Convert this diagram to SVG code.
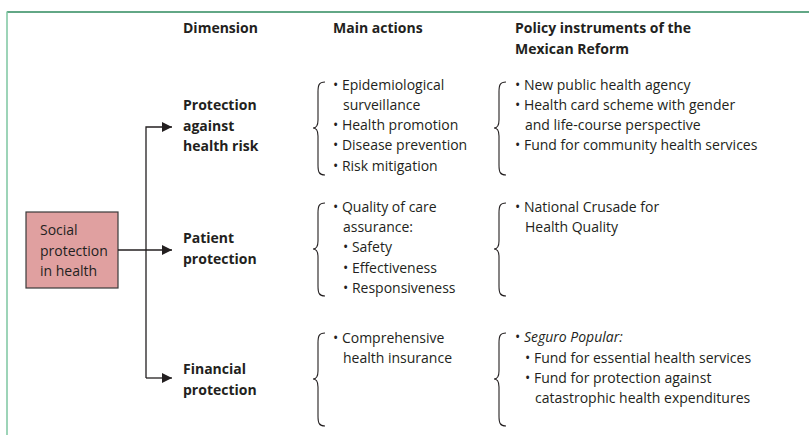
<svg xmlns="http://www.w3.org/2000/svg" width="809" height="435" viewBox="0 0 809 435">
<defs>
<marker id="arr" viewBox="0 0 10 10" refX="10" refY="5" markerWidth="10" markerHeight="10" markerUnits="userSpaceOnUse" orient="auto">
<path d="M0,0 L10,5 L0,10 Z" fill="#231f20"/>
</marker>
<path id="brace" d="M12,0 C6,0 5,3 5,10 L5,38 C5,44 3,46 0,46 C3,46 5,48 5,54 L5,83 C5,90 6,93 12,93" fill="none" stroke="#231f20" stroke-width="1.1"/>
</defs>
<style>
text{font-family:"Open Sans","Noto Sans","Liberation Sans",sans-serif;font-size:14px;fill:#231f20}
.h{font-weight:bold}
.i{font-style:italic}
.conn{fill:none;stroke:#231f20;stroke-width:1.3}
</style>
<rect width="809" height="435" fill="#fff"/>
<g id="frame">
<line x1="7" y1="12" x2="809" y2="12" stroke="#2e8a5e" stroke-width="1.5"/>
<line x1="7" y1="11.5" x2="7" y2="435" stroke="#7cc6a0" stroke-width="1.5"/>
</g>
<g id="headers">
<text class="h" x="183" y="33">Dimension</text>
<text class="h" x="333" y="33">Main actions</text>
<text class="h" x="515" y="33">Policy instruments of the</text>
<text class="h" x="515" y="54">Mexican Reform</text>
</g>
<g id="root">
<rect x="26" y="212" width="92" height="76" fill="#e0a0a0" stroke="#3a3a3a" stroke-width="1.2"/>
<text x="40" y="235">Social</text>
<text x="40" y="256">protection</text>
<text x="40" y="276">in health</text>
</g>
<g id="connectors">
<path class="conn" d="M118,250 H172" marker-end="url(#arr)"/>
<path class="conn" d="M146,378 V127 H172" marker-end="url(#arr)"/>
<path class="conn" d="M146,378 H172" marker-end="url(#arr)"/>
</g>
<g id="dim-risk">
<text class="h" x="183" y="110">Protection</text>
<text class="h" x="183" y="131">against</text>
<text class="h" x="183" y="151">health risk</text>
</g>
<g id="dim-patient">
<text class="h" x="183" y="243">Patient</text>
<text class="h" x="183" y="264">protection</text>
</g>
<g id="dim-financial">
<text class="h" x="183" y="374">Financial</text>
<text class="h" x="183" y="395">protection</text>
</g>
<g id="actions-risk">
<use href="#brace" x="313" y="82"/>
<text x="333" y="90">• Epidemiological</text>
<text x="343" y="110">surveillance</text>
<text x="333" y="130">• Health promotion</text>
<text x="333" y="150">• Disease prevention</text>
<text x="333" y="171">• Risk mitigation</text>
</g>
<g id="actions-patient">
<use href="#brace" x="313" y="203"/>
<text x="333" y="212">• Quality of care</text>
<text x="343" y="232">assurance:</text>
<text x="343" y="252">• Safety</text>
<text x="343" y="273">• Effectiveness</text>
<text x="343" y="293">• Responsiveness</text>
</g>
<g id="actions-financial">
<use href="#brace" x="313" y="333"/>
<text x="333" y="343">• Comprehensive</text>
<text x="343" y="363">health insurance</text>
</g>
<g id="policy-risk">
<use href="#brace" x="494" y="82"/>
<text x="515" y="90">• New public health agency</text>
<text x="515" y="110">• Health card scheme with gender</text>
<text x="525" y="130">and life-course perspective</text>
<text x="515" y="150">• Fund for community health services</text>
</g>
<g id="policy-patient">
<use href="#brace" x="494" y="203"/>
<text x="515" y="212">• National Crusade for</text>
<text x="525" y="232">Health Quality</text>
</g>
<g id="policy-financial">
<use href="#brace" x="494" y="333"/>
<text x="515" y="342">• <tspan class="i">Seguro Popular:</tspan></text>
<text x="525" y="363">• Fund for essential health services</text>
<text x="525" y="383">• Fund for protection against</text>
<text x="535" y="403">catastrophic health expenditures</text>
</g>
</svg>
